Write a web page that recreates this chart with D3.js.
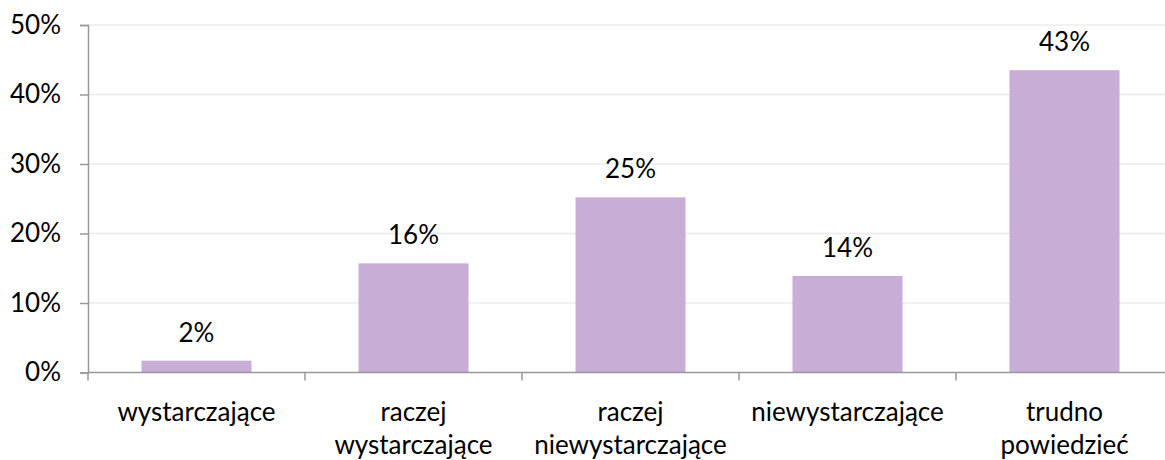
<!DOCTYPE html>
<html>
<head>
<meta charset="utf-8">
<script src="https://cdn.jsdelivr.net/npm/d3@7/dist/d3.min.js"></script>
<style>
  html, body { margin: 0; padding: 0; background: #fff; }
  svg { display: block; }
  text { font-family: Lato, "Open Sans", sans-serif; fill: #000; }
</style>
</head>
<body>
<svg id="chart" width="1165" height="460"></svg>
<script>
const categories = [["wystarczające"], ["raczej", "wystarczające"], ["raczej", "niewystarczające"], ["niewystarczające"], ["trudno", "powiedzieć"]];
const values = [1.7, 15.7, 25.2, 13.9, 43.5];
const valueLabels = ["2%", "16%", "25%", "14%", "43%"];
const yTicks = [0, 10, 20, 30, 40, 50];

const svg = d3.select("#chart");
const mLeft = 88, mRight = 1173, mTop = 25, mBottom = 372.5;
const fontSize = 26;

const x = d3.scaleBand().domain(d3.range(categories.length)).range([mLeft, mRight])
  .paddingInner(0.493).paddingOuter(0.2465);
const y = d3.scaleLinear().domain([0, 50]).range([mBottom, mTop]);

// gridlines
svg.append("g").selectAll("line").data(yTicks.filter(d => d > 0)).join("line")
  .attr("x1", mLeft).attr("x2", mRight)
  .attr("y1", d => y(d)).attr("y2", d => y(d))
  .attr("stroke", "#ececec").attr("stroke-width", 1.5);

// y axis
const yAxis = d3.axisLeft(y).tickValues(yTicks).tickFormat(d => d + "%").tickSize(8).tickPadding(19);
const gy = svg.append("g").attr("transform", `translate(${mLeft},0)`).call(yAxis);
gy.select(".domain").attr("stroke", "#999").attr("stroke-width", 1.5);
gy.selectAll(".tick line").attr("stroke", "#999").attr("stroke-width", 1.5);
gy.selectAll(".tick text").style("font-size", fontSize + "px").style("font-family", "Lato, sans-serif").attr("fill", "#000");

// bars
svg.append("g").selectAll("rect").data(values).join("rect")
  .attr("x", (d, i) => x(i)).attr("width", x.bandwidth())
  .attr("y", d => y(d)).attr("height", d => y(0) - y(d))
  .attr("fill", "#c8aed6");

// value labels
svg.append("g").selectAll("text").data(values).join("text")
  .attr("x", (d, i) => x(i) + x.bandwidth() / 2)
  .attr("y", d => y(d) - 19)
  .attr("text-anchor", "middle")
  .style("font-size", fontSize + "px")
  .text((d, i) => valueLabels[i]);

// x axis
const xb = d3.scaleBand().domain(d3.range(categories.length)).range([mLeft, mRight]);
const gx = svg.append("g").attr("transform", `translate(0,${mBottom})`);
gx.append("line").attr("x1", mLeft).attr("x2", mRight).attr("y1", 0).attr("y2", 0)
  .attr("stroke", "#999").attr("stroke-width", 1.5);
gx.selectAll("line.tick").data(d3.range(categories.length + 1)).join("line")
  .attr("class", "tick")
  .attr("x1", i => mLeft + i * xb.step()).attr("x2", i => mLeft + i * xb.step())
  .attr("y1", 0).attr("y2", 8)
  .attr("stroke", "#999").attr("stroke-width", 1.5);

const lab = svg.append("g").selectAll("text").data(categories).join("text")
  .attr("text-anchor", "middle")
  .style("font-size", fontSize + "px")
  .attr("x", (d, i) => x(i) + x.bandwidth() / 2)
  .attr("y", 421);
lab.selectAll("tspan").data(d => d).join("tspan")
  .attr("x", function() { return this.parentNode.getAttribute("x"); })
  .attr("dy", (d, j) => j === 0 ? 0 : 33)
  .text(d => d);
</script>
</body>
</html>
